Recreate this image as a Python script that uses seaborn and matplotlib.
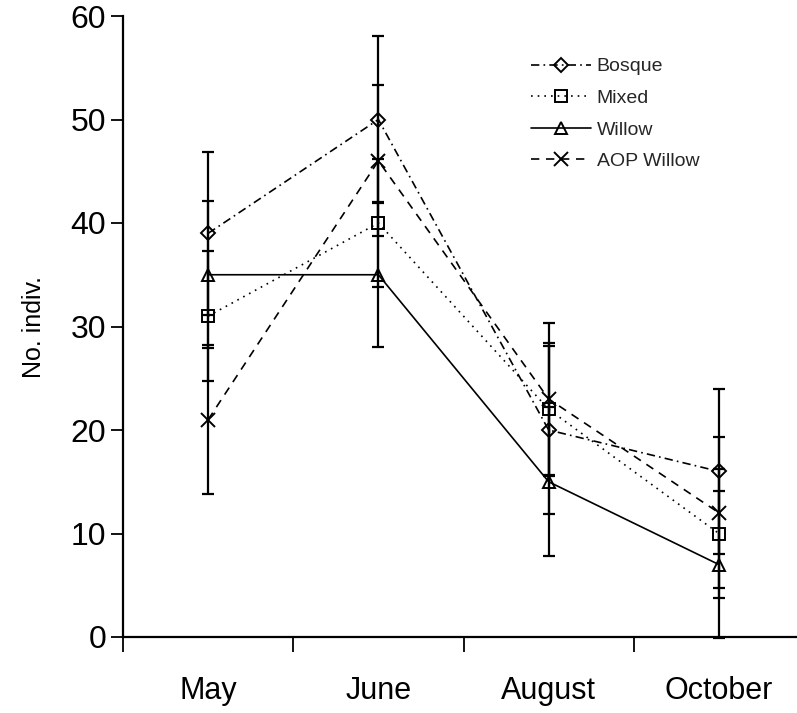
import matplotlib
matplotlib.use("Agg")
import matplotlib.pyplot as plt
import seaborn as sns
import pandas as pd

months = ["May", "June", "August", "October"]
sites = ["Bosque", "Mixed", "Willow", "AOP Willow"]
bosque = [39, 50, 20, 16]
mixed = [31, 40, 22, 10]
willow = [35, 35, 15, 7]
aop_willow = [21, 46, 23, 12]
bosque_err = [7.9, 8.1, 8.1, 8.0]
mixed_err = [6.3, 6.2, 6.4, 6.2]
willow_err = [7.1, 7.0, 7.2, 7.1]
aop_willow_err = [7.2, 7.3, 7.3, 7.3]
y_ticks = [0, 10, 20, 30, 40, 50, 60]

values = {"Bosque": bosque, "Mixed": mixed, "Willow": willow, "AOP Willow": aop_willow}
errors = {"Bosque": bosque_err, "Mixed": mixed_err, "Willow": willow_err, "AOP Willow": aop_willow_err}

rows = []
for s in sites:
    for i, m in enumerate(months):
        rows.append({"month": m, "pos": i, "site": s, "value": values[s][i], "err": errors[s][i]})
df = pd.DataFrame(rows)

sns.set_theme(style="ticks")
plt.rcParams["font.family"] = ["Liberation Sans", "DejaVu Sans"]

fig = plt.figure(figsize=(7.97, 7.13), dpi=100)
ax = fig.add_axes([123 / 797, 76 / 713, 681 / 797, 621 / 713])

styles = {
    "Bosque": dict(marker="D", markersize=7.5, linestyle=(0, (5, 2.5, 1, 2.5))),
    "Mixed": dict(marker="s", markersize=9, linestyle=(0, (1, 3))),
    "Willow": dict(marker="^", markersize=9, linestyle="-"),
    "AOP Willow": dict(marker="x", markersize=10, linestyle=(0, (5, 4))),
}

series_lines = []
for s in sites:
    sub = df[df["site"] == s]
    n_before = len(ax.lines)
    sns.lineplot(data=sub, x="pos", y="value", color="black", sort=False,
                 linewidth=1.2, markeredgecolor="black", markerfacecolor="none",
                 markeredgewidth=1.4, legend=False, ax=ax, zorder=3, **styles[s])
    series_lines.append(ax.lines[n_before])

for s in sites:
    sub = df[df["site"] == s]
    ax.errorbar(sub["pos"], sub["value"], yerr=sub["err"], fmt="none",
                ecolor="black", elinewidth=1.6, capsize=4, capthick=1.6, zorder=2,
                clip_on=False)

leg = ax.legend(handles=series_lines, labels=sites, loc="upper left",
                bbox_to_anchor=(398 / 681, 1 - 32 / 621), frameon=False,
                fontsize=14, handlelength=3.1, handletextpad=0.3,
                labelspacing=0.72, borderpad=0)

ax.set_xlim(-0.5, 3.5)
ax.set_ylim(0, 60)
ax.set_yticks(y_ticks)
ax.set_yticklabels([str(t) for t in y_ticks], fontsize=23)
ax.set_xticks(range(len(months)))
ax.set_xticklabels(months, fontsize=22)
ax.set_xticks([-0.5, 0.5, 1.5, 2.5, 3.5], minor=True)
ax.tick_params(axis="x", which="major", length=0, pad=28, colors="black")
ax.tick_params(axis="x", which="minor", length=11, width=1.3, direction="out", color="black")
ax.tick_params(axis="y", which="major", length=9, width=1.3, direction="out", pad=3, colors="black")
ax.set_xlabel("")
ax.set_ylabel("No. indiv.", fontsize=18, labelpad=18, color="black")

for side in ["top", "right"]:
    ax.spines[side].set_visible(False)
for side in ["left", "bottom"]:
    ax.spines[side].set_linewidth(1.6)
    ax.spines[side].set_color("black")

fig.savefig("out.png", dpi=100)
